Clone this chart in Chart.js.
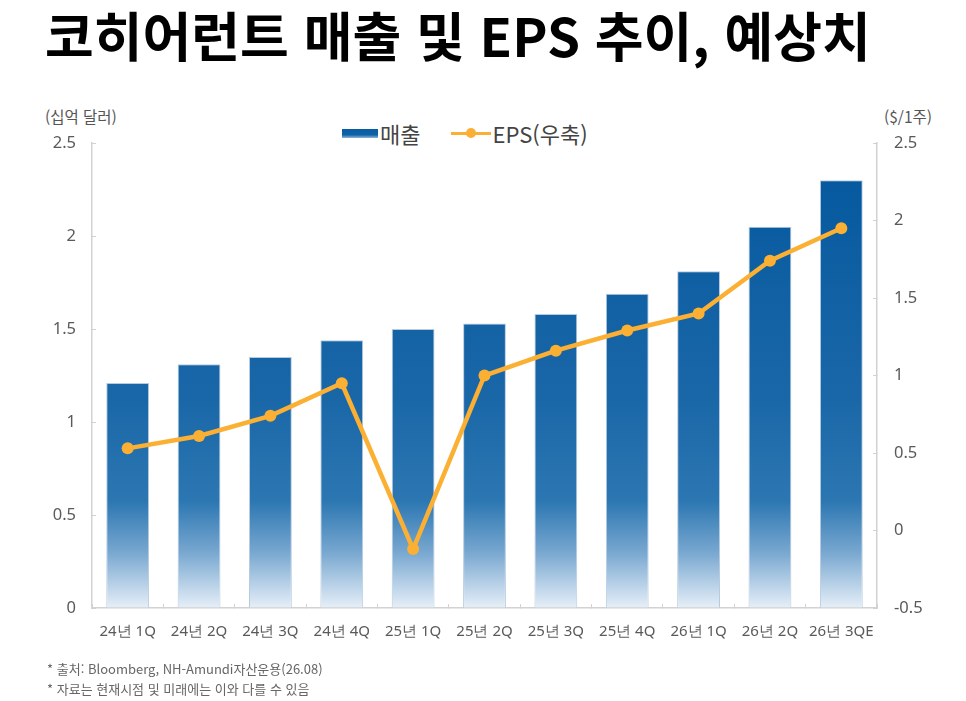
<!DOCTYPE html>
<html lang="ko">
<head>
<meta charset="utf-8">
<script src="https://cdn.jsdelivr.net/npm/chart.js@4.4.1/dist/chart.umd.min.js"></script>
<style>
  html, body { margin: 0; padding: 0; background: #fff; }
  body { width: 966px; height: 701px; position: relative; overflow: hidden;
         font-family: "Noto Sans CJK KR", "Noto Sans", sans-serif; }
  #chartWrap { position: absolute; left: 0; top: 0; width: 966px; height: 701px; }
  .title { position: absolute; left: 45px; top: 8px; font-size: 53px; line-height: 1; font-weight: 700;
           color: #000; white-space: nowrap; }
  .axis-title { position: absolute; top: 105px; font-size: 15.5px; color: #555; }
  .legend { position: absolute; top: 119px; left: 342px; height: 28px; display: flex;
            align-items: center; font-size: 22px; color: #444; }
  .legend .bar { width: 36px; height: 9px; margin-right: 2px;
                 background: linear-gradient(to bottom, #0a5ca3 0%, #0f62a7 65%, #8fb5da 100%); }
  .legend .line { position: relative; width: 40px; height: 3px; background: #fbb034; margin: 0 1px 0 31px; }
  .legend .line::after { content: ""; position: absolute; left: 15px; top: -3.5px; width: 10px; height: 10px;
                         border-radius: 50%; background: #fbb034; }
  .note { position: absolute; left: 47px; font-size: 13px; color: #666; }
</style>
</head>
<body>
<div class="title">코히어런트 매출 및 EPS 추이, 예상치</div>
<div class="axis-title" style="left:45px">(십억 달러)</div>
<div class="axis-title" style="left:884px">($/1주)</div>
<div class="legend"><span class="bar"></span><span>매출</span><span class="line"></span><span>EPS(우축)</span></div>
<div id="chartWrap"><canvas id="cohChart" width="966" height="701"></canvas></div>
<div class="note" style="top:659px">* 출처: Bloomberg, NH-Amundi자산운용(26.08)</div>
<div class="note" style="top:679px">* 자료는 현재시점 및 미래에는 이와 다를 수 있음</div>

<script>
const quarters = ['24년 1Q', '24년 2Q', '24년 3Q', '24년 4Q', '25년 1Q', '25년 2Q',
                  '25년 3Q', '25년 4Q', '26년 1Q', '26년 2Q', '26년 3QE'];
// 매출 (십억 달러)
const revenue = [1.21, 1.31, 1.35, 1.44, 1.50, 1.53, 1.58, 1.69, 1.81, 2.05, 2.30];
// EPS ($/1주)
const eps = [0.53, 0.61, 0.74, 0.95, -0.12, 1.00, 1.16, 1.29, 1.40, 1.74, 1.95];

const leftTicks = { min: 0, max: 2.5, step: 0.5 };
const rightTicks = { min: -0.5, max: 2.5, step: 0.5 };

document.addEventListener('DOMContentLoaded', function() {

  function barFill(ctx) {
    const area = ctx.chart.chartArea;
    if (!area) return '#0a5ca3';
    const g = ctx.chart.ctx.createLinearGradient(0, area.top, 0, area.bottom);
    g.addColorStop(0, '#03579d');
    g.addColorStop(0.55, '#1a67a8');
    g.addColorStop(0.77, '#2c77b2');
    g.addColorStop(0.88, '#78a7d0');
    g.addColorStop(1, '#e6eff8');
    return g;
  }

  const axisGrey = '#d2d2d2';
  const tickColor = '#5a5a5a';
  const plain = v => String(v);

  new Chart(document.getElementById('cohChart'), {
    data: {
      labels: quarters,
      datasets: [
        {
          type: 'line',
          label: 'EPS(우축)',
          data: eps,
          yAxisID: 'yR',
          borderColor: '#fbb034',
          backgroundColor: '#fbb034',
          borderWidth: 4.5,
          pointRadius: 6,
          pointBorderWidth: 0,
          pointHoverRadius: 6,
          tension: 0,
          order: 0
        },
        {
          type: 'bar',
          label: '매출',
          data: revenue,
          yAxisID: 'yL',
          backgroundColor: barFill,
          borderColor: '#b7cbe0',
          borderWidth: 1,
          barPercentage: 0.6,
          categoryPercentage: 1,
          order: 1
        }
      ]
    },
    options: {
      responsive: false,
      animation: false,
      layout: { padding: { top: 143, left: 0, right: 0, bottom: 0 } },
      plugins: {
        legend: { display: false },
        tooltip: { enabled: false }
      },
      scales: {
        x: {
          offset: true,
          grid: { display: true, drawOnChartArea: false, drawTicks: true, tickLength: -4, color: axisGrey, offset: true },
          border: { display: true, color: axisGrey, width: 1.5 },
          ticks: { color: tickColor, font: { size: 15, family: 'Noto Sans' }, padding: 19, maxRotation: 0, autoSkip: false },
          afterFit: s => { s.height = 701 - 608; }
        },
        yL: {
          position: 'left',
          min: leftTicks.min, max: leftTicks.max,
          grid: { drawOnChartArea: false, drawTicks: true, tickLength: -4, color: axisGrey },
          border: { display: true, color: axisGrey, width: 1.5 },
          ticks: { stepSize: leftTicks.step, color: tickColor, font: { size: 16.5, family: 'Noto Sans' }, padding: 20, callback: plain },
          afterFit: s => { s.width = 92; }
        },
        yR: {
          position: 'right',
          min: rightTicks.min, max: rightTicks.max,
          grid: { drawOnChartArea: false, drawTicks: true, tickLength: -4, color: axisGrey },
          border: { display: true, color: axisGrey, width: 1.5 },
          ticks: { stepSize: rightTicks.step, color: tickColor, font: { size: 16.5, family: 'Noto Sans' }, padding: 21, callback: plain },
          afterFit: s => { s.width = 966 - 877; }
        }
      }
    }
  });

}); // end DOMContentLoaded
</script>
</body>
</html>
